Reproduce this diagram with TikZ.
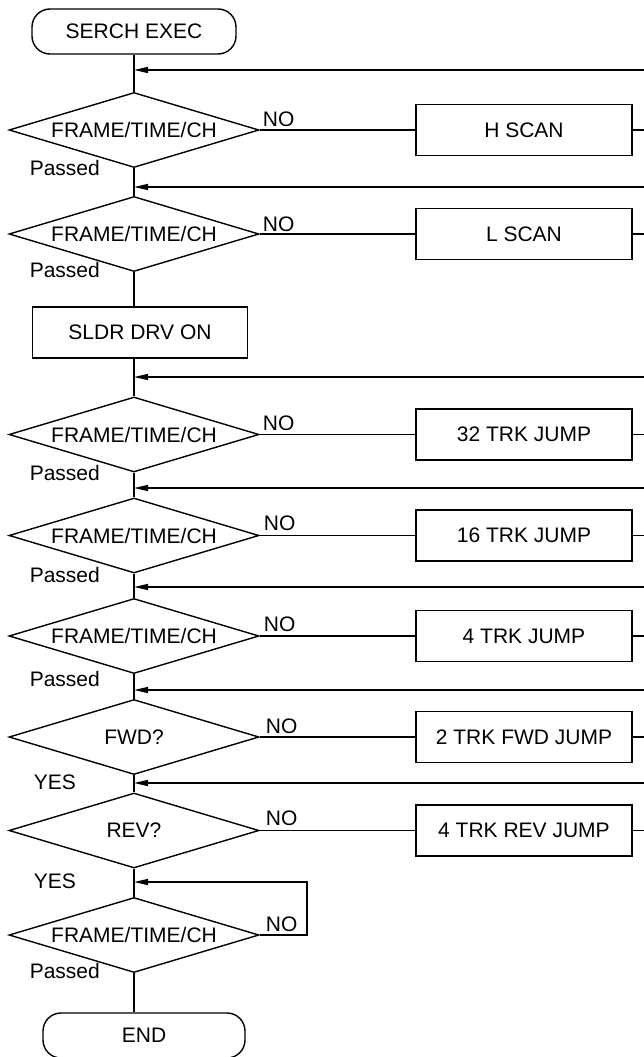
\documentclass[tikz,border=0pt]{standalone}
\usepackage{fontspec}
\setmainfont{Liberation Sans}
\usepackage{tikz}
\usetikzlibrary{shapes.geometric,arrows.meta}

\tikzset{
  flow/.style={line width=1.4pt},
  test/.style={draw, line width=1.4pt, shape=diamond, aspect=3.3, inner sep=0pt,
               minimum width=250pt, minimum height=75pt},
  jump/.style={draw, line width=1.4pt, inner sep=0pt,
               minimum width=216pt, minimum height=51pt},
  term/.style={draw, line width=1.4pt, rounded corners=18pt, inner sep=0pt,
               minimum height=45pt},
  lbl/.style={inner sep=0pt},
  back/.style={line width=1.4pt, -{Triangle[length=14pt,width=6pt]}}
}

\begin{document}
\begin{tikzpicture}[x=1pt, y=-1pt, font=\fontsize{21}{24}\selectfont]
  \useasboundingbox (0,0) rectangle (644,1057);

  % main column
  \node[term, minimum width=204pt] (start) at (134,31.5) {SERCH EXEC};
  \node[test] (d1) at (134,130) {FRAME/TIME/CH};
  \node[test] (d2) at (134,234) {FRAME/TIME/CH};
  \node[jump, minimum width=215pt] (sldr) at (140,332.5) {SLDR DRV ON};
  \node[test] (d3) at (134,434.5) {FRAME/TIME/CH};
  \node[test] (d4) at (134,535.5) {FRAME/TIME/CH};
  \node[test] (d5) at (134,636) {FRAME/TIME/CH};
  \node[test] (d6) at (134,737) {FWD?};
  \node[test] (d7) at (134,830.5) {REV?};
  \node[test] (d8) at (134,935) {FRAME/TIME/CH};
  \node[term, minimum width=202pt] (stop) at (144,1035.5) {END};

  % jump boxes
  \node[jump] (hscan) at (524,130) {H SCAN};
  \node[jump] (lscan) at (524,234) {L SCAN};
  \node[jump] (trk32) at (524,434.5) {32 TRK JUMP};
  \node[jump] (trk16) at (524,535.5) {16 TRK JUMP};
  \node[jump] (trk4) at (524,636) {4 TRK JUMP};
  \node[jump] (fwd2) at (524,737) {2 TRK FWD JUMP};
  \node[jump] (rev4) at (524,830.5) {4 TRK REV JUMP};

  % junctions on the column and free ends at the right edge
  \coordinate (j1) at (134,70);   \coordinate (r1) at (644,70);
  \coordinate (j2) at (134,187);  \coordinate (r2) at (644,187);
  \coordinate (j3) at (134,377);  \coordinate (r3) at (644,377);
  \coordinate (j4) at (134,488);  \coordinate (r4) at (644,488);
  \coordinate (j5) at (134,587);  \coordinate (r5) at (644,587);
  \coordinate (j6) at (134,690);  \coordinate (r6) at (644,690);
  \coordinate (j7) at (134,783);  \coordinate (r7) at (644,783);
  \coordinate (j8) at (134,882);  \coordinate (lp) at (307,882);

  \draw[flow] (start) -- (d1);
  \draw[flow] (d1) -- (d2);
  \draw[flow] (d2.south) -- (d2.south |- sldr.north);
  \draw[flow] (sldr.south -| d3.north) -- (d3.north);
  \draw[flow] (d3) -- (d4);
  \draw[flow] (d4) -- (d5);
  \draw[flow] (d5) -- (d6);
  \draw[flow] (d6) -- (d7);
  \draw[flow] (d7) -- (d8);
  \draw[flow] (d8.south) -- (d8.south |- stop.north);

  % NO branches
  \draw[flow] (d1) -- (hscan);  \draw[flow] (hscan.east) -- (hscan.east -| r1);
  \draw[flow] (d2) -- (lscan);  \draw[flow] (lscan.east) -- (lscan.east -| r1);
  \draw[flow] (d3) -- (trk32);  \draw[flow] (trk32.east) -- (trk32.east -| r1);
  \draw[flow] (d4) -- (trk16);  \draw[flow] (trk16.east) -- (trk16.east -| r1);
  \draw[flow] (d5) -- (trk4);   \draw[flow] (trk4.east) -- (trk4.east -| r1);
  \draw[flow] (d6) -- (fwd2);   \draw[flow] (fwd2.east) -- (fwd2.east -| r1);
  \draw[flow] (d7) -- (rev4);   \draw[flow] (rev4.east) -- (rev4.east -| r1);

  % returns
  \draw[back] (r1) -- (j1);
  \draw[back] (r2) -- (j2);
  \draw[back] (r3) -- (j3);
  \draw[back] (r4) -- (j4);
  \draw[back] (r5) -- (j5);
  \draw[back] (r6) -- (j6);
  \draw[back] (r7) -- (j7);
  \draw[back] (d8.east) -| (lp) -- (j8);

  % labels
  \node[lbl, anchor=base west] (no1) at ([xshift=3pt,yshift=4pt]d1.east) {NO};
  \node[lbl, anchor=base west] (no2) at ([xshift=3pt,yshift=3pt]d2.east) {NO};
  \node[lbl, anchor=base west] (no3) at ([xshift=3pt,yshift=4pt]d3.east) {NO};
  \node[lbl, anchor=base west] (no4) at ([xshift=4pt,yshift=5pt]d4.east) {NO};
  \node[lbl, anchor=base west] (no5) at ([xshift=4pt,yshift=5pt]d5.east) {NO};
  \node[lbl, anchor=base west] (no6) at ([xshift=6pt,yshift=4pt]d6.east) {NO};
  \node[lbl, anchor=base west] (no7) at ([xshift=6pt,yshift=5pt]d7.east) {NO};
  \node[lbl, anchor=base west] (no8) at ([xshift=6pt,yshift=4pt]d8.east) {NO};

  \node[lbl, anchor=base east] (ps1) at ([xshift=-34pt,yshift=-7pt]d1.south) {Passed};
  \node[lbl, anchor=base east] (ps2) at ([xshift=-34pt,yshift=-5pt]d2.south) {Passed};
  \node[lbl, anchor=base east] (ps3) at ([xshift=-34pt,yshift=-8pt]d3.south) {Passed};
  \node[lbl, anchor=base east] (ps4) at ([xshift=-34pt,yshift=-9pt]d4.south) {Passed};
  \node[lbl, anchor=base east] (ps5) at ([xshift=-34pt,yshift=-12pt]d5.south) {Passed};
  \node[lbl, anchor=base east] (ps8) at ([xshift=-34pt,yshift=-5pt]d8.south) {Passed};
  \node[lbl, anchor=base east] (yes6) at ([xshift=-58pt,yshift=-14pt]d6.south) {YES};
  \node[lbl, anchor=base east] (yes7) at ([xshift=-58pt,yshift=-20pt]d7.south) {YES};
\end{tikzpicture}
\end{document}
